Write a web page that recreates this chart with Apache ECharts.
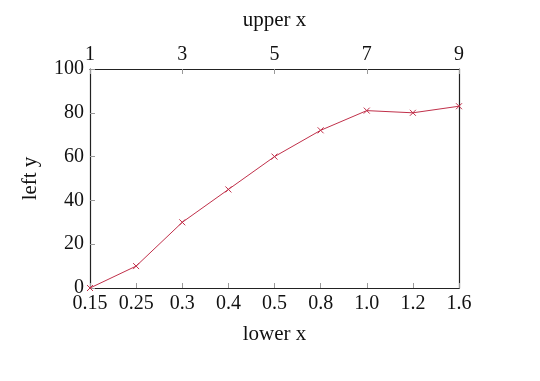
<!DOCTYPE html>
<html><head><meta charset="utf-8">
<script src="https://cdn.jsdelivr.net/npm/echarts@6/dist/echarts.min.js"></script>
<style>html,body{margin:0;padding:0;background:#fff}#c{width:540px;height:381px}</style>
</head><body><div id="c"></div>
<script>
const lowerX = ['0.15','0.25','0.3','0.4','0.5','0.8','1.0','1.2','1.6'];
const yValues = [0, 10, 30, 45, 60, 72, 81, 80, 83];
const upperTicks = [1, 3, 5, 7, 9];
const font = 'Liberation Serif';
const crossPath = 'path://M0,0L10,10M10,0L0,10';
const chart = echarts.init(document.getElementById('c'));
const axisCommon = {
  axisLine:{show:true,onZero:false,lineStyle:{color:'#222',width:1.2}},
  axisTick:{show:true,inside:true,length:5,lineStyle:{color:'#999'}},
  axisLabel:{color:'#111',fontFamily:font,fontSize:20},
  nameTextStyle:{color:'#111',fontFamily:font,fontSize:21},
  splitLine:{show:false}
};
chart.setOption({
  animation:false,
  grid:{left:90,right:81,top:69,bottom:93},
  xAxis:[
    Object.assign({}, axisCommon, {type:'category',data:lowerX,boundaryGap:false,position:'bottom',
      name:'lower x',nameLocation:'middle',nameGap:36,
      axisLabel:Object.assign({},axisCommon.axisLabel,{margin:6,interval:0}),
      axisTick:Object.assign({},axisCommon.axisTick,{alignWithLabel:true,interval:0})}),
    Object.assign({}, axisCommon, {type:'value',min:upperTicks[0],max:upperTicks[upperTicks.length-1],interval:2,position:'top',
      name:'upper x',nameLocation:'middle',nameGap:38,
      axisLabel:Object.assign({},axisCommon.axisLabel,{margin:4})})
  ],
  yAxis:[
    Object.assign({}, axisCommon, {type:'value',min:0,max:100,interval:20,position:'left',
      name:'left y',nameLocation:'middle',nameGap:49,
      axisLabel:Object.assign({},axisCommon.axisLabel,{margin:6})}),
    {type:'value',min:0,max:100,interval:20,position:'right',axisLine:{show:true,onZero:false,lineStyle:{color:'#222',width:1.2}},axisTick:{show:false},axisLabel:{show:false},splitLine:{show:false}}
  ],
  series:[{
    type:'line',xAxisIndex:0,yAxisIndex:0,data:yValues,
    lineStyle:{color:'#c0304a',width:1},
    itemStyle:{color:'#c0304a',borderColor:'#c0304a',borderWidth:1},
    symbol:crossPath,symbolSize:6,showSymbol:true
  }]
});
</script></body></html>
